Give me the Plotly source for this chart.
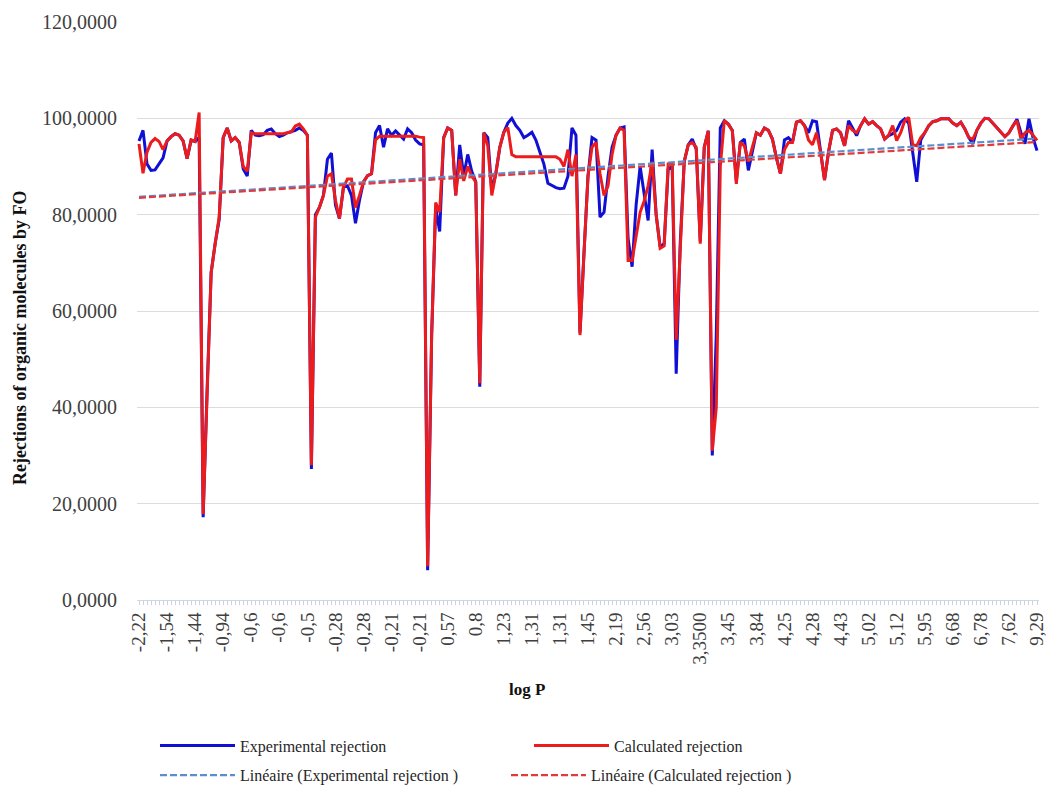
import numpy as np
import plotly.graph_objects as go

# Category tick labels (log P), shown every 7th category
tick_labels = ["-2,22", "-1,54", "-1,44", "-0,94", "-0,6", "-0,6", "-0,5", "-0,28", "-0,28",
               "-0,21", "-0,21", "0,57", "0,8", "1,23", "1,31", "1,31", "1,45", "2,19",
               "2,56", "3,03", "3,3500", "3,45", "3,84", "4,25", "4,28", "4,43", "5,02",
               "5,12", "5,95", "6,68", "6,78", "7,62", "9,29"]
label_step = 7

experimental = [
    95.3, 97.5, 90.5, 89.2, 89.3, 90.5, 91.8, 95.3, 96.2, 96.8,
    96.5, 95.3, 91.6, 95.5, 95.2, 96.0, 17.2, 44.0, 68.0, 74.0,
    79.0, 96.0, 98.0, 95.3, 96.0, 95.0, 89.5, 88.0, 97.5, 96.5,
    96.4, 96.6, 97.5, 97.8, 96.8, 96.2, 96.5, 97.0, 97.2, 97.5,
    98.0, 97.5, 96.5, 27.2, 80.0, 81.5, 84.0, 91.5, 92.8, 82.0,
    79.2, 85.7, 86.0, 84.0, 78.2, 83.0, 86.8, 88.1, 88.5, 97.0,
    98.5, 94.0, 97.8, 96.5, 97.4, 96.5, 95.7, 97.8, 97.0, 95.5,
    94.7, 94.5, 6.2, 55.0, 81.5, 76.5, 96.0, 98.0, 97.5, 84.0,
    94.5, 88.0, 92.5, 89.0, 86.8, 44.3, 97.0, 96.0, 85.0, 88.5,
    94.0, 97.1, 99.0, 100.0, 98.5, 97.5, 96.0, 96.5, 97.1, 95.5,
    93.0, 90.5, 86.5, 86.0, 85.6, 85.4, 85.5, 88.0, 98.0, 96.5,
    55.5, 72.0, 88.0, 96.0, 95.5, 79.5, 80.5, 88.0, 94.0, 96.5,
    98.0, 98.2, 75.0, 69.2, 82.0, 90.0, 84.0, 78.8, 93.5, 80.0,
    73.3, 74.0, 89.5, 90.0, 47.0, 74.0, 91.0, 94.5, 95.7, 93.6,
    74.5, 94.0, 97.4, 30.0, 55.0, 98.0, 99.5, 98.8, 97.5, 87.0,
    95.0, 95.7, 89.2, 93.5, 97.0, 96.5, 98.0, 97.5, 95.7, 91.8,
    88.5, 95.5, 96.0, 95.0, 99.2, 99.5, 98.5, 97.0, 99.5, 99.3,
    93.0, 87.2, 93.0, 97.5, 97.8, 97.0, 94.3, 99.5, 98.0, 96.4,
    98.5, 99.9, 98.8, 99.3, 98.5, 97.8, 95.7, 96.4, 96.8, 97.5,
    99.2, 99.9, 99.0, 93.0, 86.8, 95.5, 97.0, 98.5, 99.3, 99.5,
    99.9, 99.9, 99.9, 99.0, 98.5, 99.2, 97.8, 96.0, 94.7, 97.5,
    99.0, 100.0, 99.9, 99.0, 98.0, 97.0, 96.2, 97.0, 98.5, 99.8,
    97.0, 94.7, 99.9, 96.0, 93.3]

calculated = [
    94.7, 88.6, 93.0, 95.0, 95.8, 95.2, 93.5, 95.3, 96.2, 96.8,
    96.5, 95.3, 91.6, 95.5, 95.2, 101.2, 17.8, 44.0, 68.0, 74.0,
    79.5, 96.0, 98.0, 95.3, 96.0, 95.0, 90.0, 89.0, 97.0, 96.8,
    96.8, 96.8, 96.8, 96.8, 96.8, 96.8, 96.8, 97.0, 97.2, 98.4,
    98.8, 97.8, 96.5, 28.0, 79.5, 81.5, 84.0, 88.0, 88.5, 83.0,
    79.2, 85.7, 87.4, 87.4, 81.5, 84.0, 86.8, 88.1, 88.5, 95.5,
    96.3, 96.3, 96.3, 96.3, 96.3, 96.3, 96.3, 96.3, 96.3, 96.3,
    96.1, 96.0, 7.0, 55.0, 82.5, 80.5, 96.0, 98.0, 97.5, 84.0,
    91.5, 87.0, 90.0, 88.0, 86.8, 45.0, 97.0, 94.3, 84.0, 88.5,
    94.0, 97.1, 98.1, 92.5, 92.0, 92.0, 92.0, 92.0, 92.0, 92.0,
    92.0, 92.0, 92.0, 92.0, 92.0, 91.5, 90.0, 93.5, 88.0, 92.5,
    55.0, 72.0, 88.0, 94.0, 95.0, 88.5, 84.0, 86.0, 92.5, 96.5,
    98.0, 97.5, 70.5, 70.5, 76.0, 80.5, 82.8, 86.0, 91.0, 80.0,
    73.0, 73.5, 90.5, 90.5, 54.0, 72.0, 91.0, 94.5, 95.0, 94.0,
    74.0, 94.0, 97.4, 31.0, 40.0, 90.0, 99.5, 98.8, 97.5, 86.4,
    95.0, 94.3, 91.0, 94.0, 97.0, 96.5, 98.0, 97.5, 95.7, 91.8,
    88.5, 93.5, 95.0, 95.0, 99.2, 99.5, 98.5, 95.5, 94.5, 97.0,
    93.0, 87.2, 93.0, 97.5, 97.8, 97.0, 94.3, 98.5, 97.5, 97.0,
    98.5, 99.9, 98.8, 99.3, 98.5, 97.8, 95.7, 96.5, 98.5, 95.4,
    97.0, 99.5, 100.2, 94.5, 94.3, 96.0, 97.0, 98.5, 99.3, 99.5,
    99.9, 99.9, 99.9, 99.0, 98.5, 99.2, 97.8, 96.0, 95.7, 97.5,
    99.0, 100.0, 99.9, 99.0, 98.0, 97.0, 96.2, 97.0, 98.5, 99.5,
    95.7, 97.0, 97.5, 96.5, 95.4]

# Linear trendlines ("Linéaire") at first and last category
trend_experimental = [83.7, 95.8]
trend_calculated = [83.5, 95.1]

n = len(experimental)
x = np.arange(n)
tickvals = list(range(0, n, label_step))
trend_x = [0, n - 1]

BLUE = "#1010d4"
RED = "#ec1c1c"
SERIF = "Liberation Serif, Times New Roman, serif"

W, H = 1051, 789
ML, MR, MT, MB = 137, 12, 22, 189
PW = W - ML - MR
PH = H - MT - MB

fig = go.Figure()
fig.add_trace(go.Scatter(x=x, y=experimental, mode="lines", name="Experimental rejection",
                         line=dict(color=BLUE, width=3), legend="legend"))
fig.add_trace(go.Scatter(x=x, y=calculated, mode="lines", name="Calculated rejection",
                         line=dict(color=RED, width=3), legend="legend"))
fig.add_trace(go.Scatter(x=trend_x, y=trend_experimental, mode="lines",
                         name="Linéaire (Experimental rejection )",
                         line=dict(color="#5b8ed0", width=2.2, dash="7px,3px"), legend="legend2"))
fig.add_trace(go.Scatter(x=trend_x, y=trend_calculated, mode="lines",
                         name="Linéaire (Calculated rejection )",
                         line=dict(color="#e03a3a", width=2.2, dash="7px,3px"), legend="legend2"))

legend_font = dict(family=SERIF, size=16, color="#262626")
fig.update_layout(
    width=W, height=H,
    margin=dict(l=ML, r=MR, t=MT, b=MB, autoexpand=False),
    paper_bgcolor="white", plot_bgcolor="white",
    separators=", ",
    font=dict(family=SERIF, size=16, color="#404040"),
    showlegend=True,
    legend=dict(orientation="h", x=18 / PW, xanchor="left", y=-128.6 / PH, yanchor="top",
                entrywidth=284, entrywidthmode="pixels", font=legend_font, itemwidth=75),
    legend2=dict(orientation="h", x=18 / PW, xanchor="left", y=-158.2 / PH, yanchor="top",
                 entrywidth=261, entrywidthmode="pixels", font=legend_font, itemwidth=75),
    annotations=[
        dict(text="<b>log P</b>", xref="paper", yref="paper",
             x=(527 - ML) / PW, y=-(689 - (H - MB)) / PH, xanchor="center", yanchor="middle",
             showarrow=False, font=dict(family=SERIF, size=17, color="#111111")),
        dict(text="<b>Rejections of organic molecules by FO</b>", xref="paper", yref="paper",
             x=-(ML - 20) / PW, y=((H - MB) - 338) / PH, xanchor="center", yanchor="middle",
             textangle=-90, showarrow=False, font=dict(family=SERIF, size=18, color="#111111")),
    ],
)
fig.update_xaxes(
    range=[-0.5, n - 0.5],
    tickmode="array", tickvals=tickvals, ticktext=tick_labels,
    tickangle=-90, tickfont=dict(family=SERIF, size=19, color="#404040"),
    ticklabeloverflow="allow",
    ticks="outside", ticklen=4, tickcolor="#c9d2de",
    minor=dict(dtick=1, tick0=0, ticks="outside", ticklen=4, tickcolor="#c9d2de", showgrid=False),
    showline=True, linecolor="#d0d7e2", linewidth=1,
    showgrid=False, zeroline=False,
)
fig.update_yaxes(
    range=[0, 120], dtick=20, tickformat=".4f",
    tickfont=dict(family=SERIF, size=20, color="#404040"),
    showgrid=True, gridcolor="#dcdcdc", gridwidth=1,
    zeroline=False, showline=False, ticks="", ticklabelstandoff=19,
)

fig.write_html("out.html")
